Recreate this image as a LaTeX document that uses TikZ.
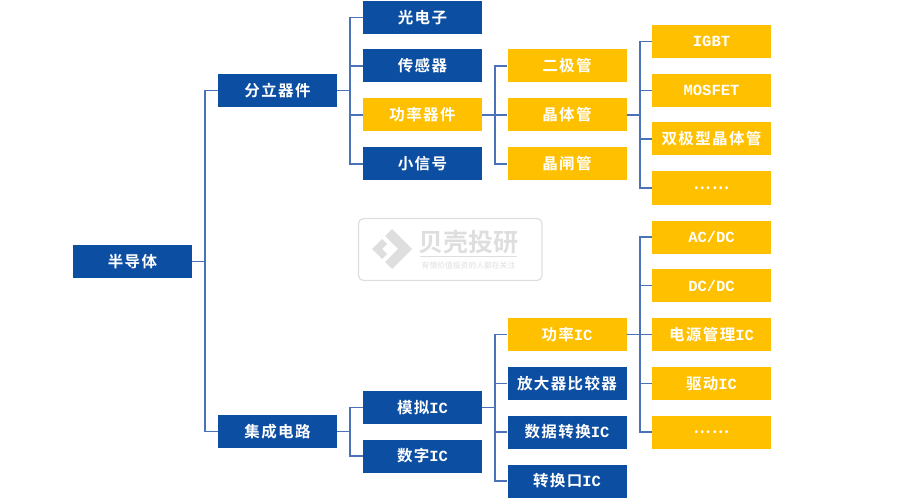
\documentclass[tikz,border=0pt]{standalone}
\usepackage{fontspec}
\setmainfont[LetterSpace=9,BoldFont={Noto Sans CJK SC Bold}]{Noto Sans CJK SC}
\newfontfamily\markfont{Noto Sans CJK SC Bold}
\newfontfamily\latfont{Liberation Mono Bold}
\definecolor{boxblue}{RGB}{12,78,162}
\definecolor{boxgold}{RGB}{255,192,0}
\definecolor{linkblue}{RGB}{74,114,184}
\definecolor{markgrey}{RGB}{222,222,222}
\newcommand{\lat}[1]{{\latfont #1}}
\tikzset{
  bluebox/.style={fill=boxblue, text=white, minimum width=119pt, minimum height=33pt, inner sep=0pt, font=\fontsize{15.5pt}{16pt}\selectfont\bfseries},
  goldbox/.style={bluebox, fill=boxgold},
  link/.style={draw=linkblue, line width=1.8pt, line join=miter}
}
\begin{document}
\begin{tikzpicture}[x=1pt, y=-1pt]
    \useasboundingbox (0,0) rectangle (900,500);
    % watermark
    \draw[markgrey, line width=1.2pt, rounded corners=5pt] (358.5,218.5) rectangle (542,280.5);
    \fill[markgrey] (392,229) -- (412,249) -- (392,269) -- (385,262) -- (398,249) -- (385,236) -- cycle;
    \fill[markgrey] (382,239) -- (387,244) -- (382,249) -- (387,254) -- (382,259) -- (372,249) -- cycle;
    \node[text=markgrey, font=\markfont\fontsize{25pt}{25pt}\selectfont, inner sep=0pt] (marktitle) at (468.5,242) {贝壳投研};
    \draw[markgrey, line width=0.8pt] (420,256.5) -- (517,256.5);
    \node[text=markgrey!70!white, font=\markfont\fontsize{7.8pt}{8pt}\selectfont, inner sep=0pt] (marksub) at (468.5,265.5) {有情价值投资的人都在关注};
    % boxes
    \node[bluebox] (root) at (132.5,261.5) {半导体};
    \node[bluebox] (discrete) at (277.5,90.5) {分立器件};
    \node[bluebox] (integrated) at (277.5,431.5) {集成电路};
    \node[bluebox] (opto) at (422.5,17.5) {光电子};
    \node[bluebox] (sensor) at (422.5,66) {传感器};
    \node[goldbox] (power) at (422.5,115) {功率器件};
    \node[bluebox] (small) at (422.5,164) {小信号};
    \node[bluebox] (analog) at (422.5,407.5) {模拟\lat{IC}};
    \node[bluebox] (digital) at (422.5,456) {数字\lat{IC}};
    \node[goldbox] (diode) at (567,66) {二极管};
    \node[goldbox] (transistor) at (567,115) {晶体管};
    \node[goldbox] (thyristor) at (567,164) {晶闸管};
    \node[goldbox] (poweric) at (567,334.5) {功率\lat{IC}};
    \node[bluebox] (amp) at (567,383.5) {放大器比较器};
    \node[bluebox] (convert) at (567,432) {数据转换\lat{IC}};
    \node[bluebox] (port) at (567,481) {转换口\lat{IC}};
    \node[goldbox] (igbt) at (711.5,41.5) {\lat{IGBT}};
    \node[goldbox] (mosfet) at (711.5,90.5) {\lat{MOSFET}};
    \node[goldbox] (bipolar) at (711.5,139) {双极型晶体管};
    \node[goldbox] (moreone) at (711.5,188) {……};
    \node[goldbox] (acdc) at (711.5,237) {\lat{AC/DC}};
    \node[goldbox] (dcdc) at (711.5,285.5) {\lat{DC/DC}};
    \node[goldbox] (pmic) at (711.5,334.5) {电源管理\lat{IC}};
    \node[goldbox] (driver) at (711.5,383.5) {驱动\lat{IC}};
    \node[goldbox] (moretwo) at (711.5,432) {……};
    % connectors
    \foreach \child in {discrete,integrated} \draw[link] (root.east) -- ++(13,0) |- (\child.west);
    \foreach \child in {opto,sensor,power,small} \draw[link] (discrete.east) -- ++(13,0) |- (\child.west);
    \foreach \child in {analog,digital} \draw[link] (integrated.east) -- ++(13,0) |- (\child.west);
    \foreach \child in {diode,transistor,thyristor} \draw[link] (power.east) -- ++(12.5,0) |- (\child.west);
    \foreach \child in {poweric,amp,convert,port} \draw[link] (analog.east) -- ++(12.5,0) |- (\child.west);
    \foreach \child in {igbt,mosfet,bipolar,moreone} \draw[link] (transistor.east) -- ++(13,0) |- (\child.west);
    \foreach \child in {acdc,dcdc,pmic,driver,moretwo} \draw[link] (poweric.east) -- ++(13,0) |- (\child.west);
\end{tikzpicture}
\end{document}
